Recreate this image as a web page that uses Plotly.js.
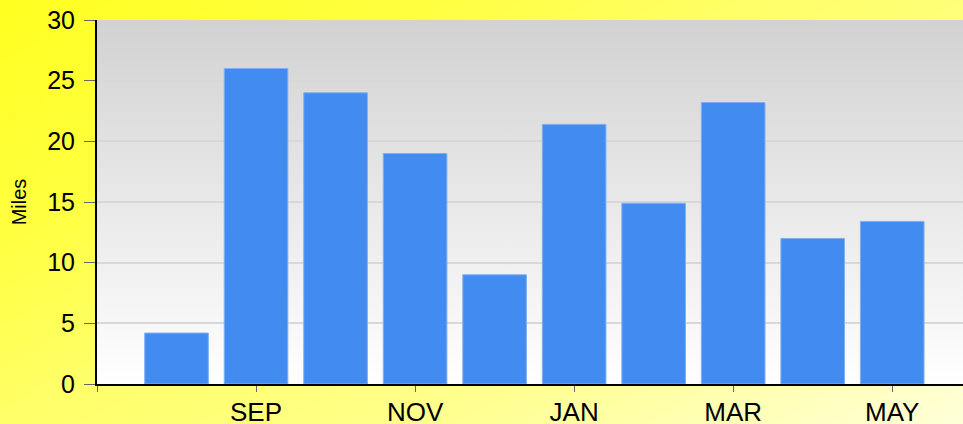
<!DOCTYPE html>
<html>
<head>
<meta charset="utf-8">
<script src="https://cdn.plot.ly/plotly-3.0.1.min.js"></script>
<style>
  html, body { margin: 0; padding: 0; }
  #chart {
    width: 963px; height: 424px;
    background: linear-gradient(151deg, #ffff20 0%, #ffff40 25%, #ffff68 44%, #ffff78 56%, #ffff90 70%, #ffffd8 100%);
  }
</style>
</head>
<body>
<div id="chart"></div>
<script>
const months = ['AUG', 'SEP', 'OCT', 'NOV', 'DEC', 'JAN', 'FEB', 'MAR', 'APR', 'MAY'];
const miles = [4.2, 26, 24, 19, 9, 21.4, 14.9, 23.2, 12, 13.4];
const yTicks = [0, 5, 10, 15, 20, 25, 30];

const xIdx = months.map((m, i) => i);
// ticks every other month, starting with the (unlabelled) month before the first
const tickVals = [-1].concat(xIdx.filter(i => i % 2 === 1));
const tickText = [''].concat(xIdx.filter(i => i % 2 === 1).map(i => months[i]));

const gradSvg = '<svg xmlns="http://www.w3.org/2000/svg" width="10" height="100" preserveAspectRatio="none">' +
  '<defs><linearGradient id="g" x1="0" y1="0" x2="0" y2="1">' +
  '<stop offset="0" stop-color="#d2d2d2"/><stop offset="1" stop-color="#ffffff"/>' +
  '</linearGradient></defs><rect width="10" height="100" fill="url(#g)"/></svg>';

const trace = {
  type: 'bar',
  x: xIdx,
  y: miles,
  hovertext: months,
  hoverinfo: 'text+y',
  marker: { color: '#428bf0', line: { color: '#7fb0f5', width: 1 } },
  width: 0.8
};

const layout = {
  width: 963,
  height: 424,
  margin: { l: 97, r: 0, t: 20, b: 40, pad: 0 },
  paper_bgcolor: 'rgba(0,0,0,0)',
  plot_bgcolor: 'rgba(0,0,0,0)',
  font: { family: 'Liberation Sans, Arial, sans-serif', color: '#000' },
  showlegend: false,
  bargap: 0.2,
  images: [{
    source: 'data:image/svg+xml;charset=utf-8,' + encodeURIComponent(gradSvg),
    xref: 'paper', yref: 'paper', x: 0, y: 1, sizex: 1, sizey: 1,
    xanchor: 'left', yanchor: 'top', sizing: 'stretch', layer: 'below'
  }],
  xaxis: {
    type: 'linear',
    range: [-1, 9.89],
    tickmode: 'array',
    tickvals: tickVals,
    ticktext: tickText,
    ticks: 'outside',
    ticklen: 6,
    tickwidth: 1,
    tickcolor: '#666',
    tickfont: { size: 26, color: '#000' },
    ticklabelstandoff: -2,
    showgrid: false,
    zeroline: false,
    showline: true,
    linecolor: '#000',
    linewidth: 2,
    fixedrange: true
  },
  yaxis: {
    range: [0, 30],
    tickmode: 'array',
    tickvals: yTicks,
    ticks: 'outside',
    ticklen: 11,
    tickwidth: 1,
    tickcolor: '#666',
    tickfont: { size: 25, color: '#000' },
    ticklabelstandoff: 4,
    showgrid: true,
    gridcolor: '#d8d8d8',
    gridwidth: 2,
    zeroline: false,
    showline: true,
    linecolor: '#000',
    linewidth: 2,
    title: { text: 'Miles', font: { size: 20, color: '#000' }, standoff: 15 },
    fixedrange: true
  }
};

Plotly.newPlot('chart', [trace], layout, { displayModeBar: false, staticPlot: true });
</script>
</body>
</html>
